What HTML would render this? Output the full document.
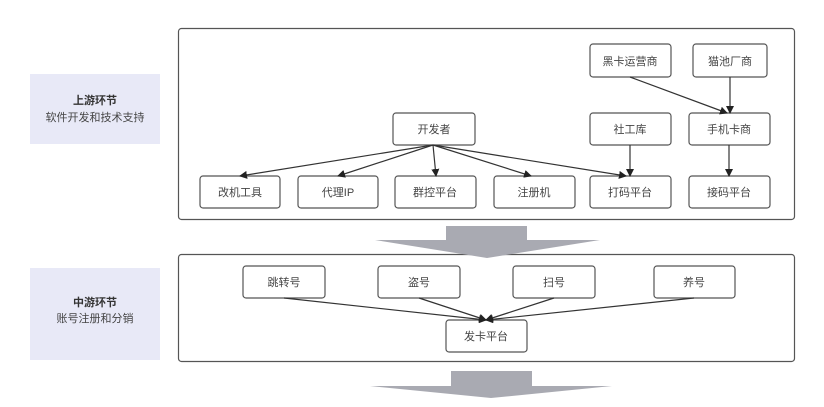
<!DOCTYPE html>
<html><head><meta charset="utf-8"><style>
body{margin:0;background:#fff;width:824px;height:402px;overflow:hidden;font-family:"Liberation Sans","Noto Sans CJK SC",sans-serif}
</style></head><body>
<svg width="824" height="402" xmlns="http://www.w3.org/2000/svg" font-family="Liberation Sans, Noto Sans CJK SC, sans-serif">
<defs><marker id="a" markerWidth="8" markerHeight="8" refX="7" refY="4" orient="auto" markerUnits="userSpaceOnUse"><path d="M0,0 L8,4 L0,8 z" fill="#222"/></marker></defs>
<rect x="30" y="74" width="130" height="70" fill="#e8e9f7"/>
<text x="95" y="104" text-anchor="middle" font-size="11" font-weight="bold" fill="#333">上游环节</text>
<text x="95" y="121" text-anchor="middle" font-size="11" fill="#444">软件开发和技术支持</text>
<rect x="30" y="268" width="130" height="92" fill="#e8e9f7"/>
<text x="95" y="306" text-anchor="middle" font-size="11" font-weight="bold" fill="#333">中游环节</text>
<text x="95" y="322" text-anchor="middle" font-size="11" fill="#444">账号注册和分销</text>
<rect x="178.5" y="28.5" width="616" height="191" rx="3" fill="none" stroke="#555" stroke-width="1.2"/>
<rect x="178.5" y="254.5" width="616" height="107" rx="3" fill="none" stroke="#555" stroke-width="1.2"/>
<g fill="#fff" stroke="#555" stroke-width="1.2">
<rect x="200" y="176" width="80" height="32" rx="3"/><rect x="298" y="176" width="80" height="32" rx="3"/>
<rect x="395" y="176" width="81" height="32" rx="3"/><rect x="494" y="176" width="81" height="32" rx="3"/>
<rect x="590" y="176" width="81" height="32" rx="3"/><rect x="689" y="176" width="81" height="32" rx="3"/>
<rect x="393" y="113" width="82" height="32" rx="3"/><rect x="590" y="113" width="81" height="32" rx="3"/>
<rect x="689" y="113" width="81" height="32" rx="3"/><rect x="590" y="44" width="81" height="33" rx="3"/>
<rect x="693" y="44" width="74" height="33" rx="3"/>
<rect x="243" y="266" width="82" height="32" rx="3"/><rect x="378" y="266" width="82" height="32" rx="3"/>
<rect x="513" y="266" width="82" height="32" rx="3"/><rect x="654" y="266" width="81" height="32" rx="3"/>
<rect x="446" y="320" width="81" height="32" rx="3"/>
</g>
<g font-size="11" fill="#444" text-anchor="middle">
<text x="240" y="196">改机工具</text><text x="338" y="196">代理IP</text><text x="435" y="196">群控平台</text>
<text x="534" y="196">注册机</text><text x="630" y="196">打码平台</text><text x="729" y="196">接码平台</text>
<text x="434" y="133">开发者</text><text x="630" y="133">社工库</text><text x="729" y="133">手机卡商</text>
<text x="630" y="65">黑卡运营商</text><text x="730" y="65">猫池厂商</text>
<text x="284" y="286">跳转号</text><text x="419" y="286">盗号</text><text x="554" y="286">扫号</text><text x="694" y="286">养号</text>
<text x="486" y="340">发卡平台</text>
</g>
<g stroke="#333" stroke-width="1.2" fill="none" marker-end="url(#a)">
<line x1="433" y1="145" x2="240" y2="176"/><line x1="433" y1="145" x2="338" y2="176"/>
<line x1="433" y1="145" x2="436" y2="176"/><line x1="433" y1="145" x2="531" y2="176"/>
<line x1="433" y1="145" x2="626" y2="176"/><line x1="630" y1="145" x2="630" y2="176"/>
<line x1="729" y1="145" x2="729" y2="176"/><line x1="630" y1="77" x2="727" y2="113"/>
<line x1="730" y1="77" x2="730" y2="113"/>
<line x1="284" y1="298" x2="486" y2="320"/><line x1="419" y1="298" x2="486" y2="320"/>
<line x1="554" y1="298" x2="486" y2="320"/><line x1="694" y1="298" x2="486" y2="320"/>
</g>
<g fill="#a9aab2">
<rect x="446" y="226" width="81" height="16"/><path d="M375,240 L600,240 L487,258 z"/>
<rect x="451" y="371" width="81" height="16"/><path d="M370,386 L612,386 L491,398 z"/>
</g>
</svg>
</body></html>
